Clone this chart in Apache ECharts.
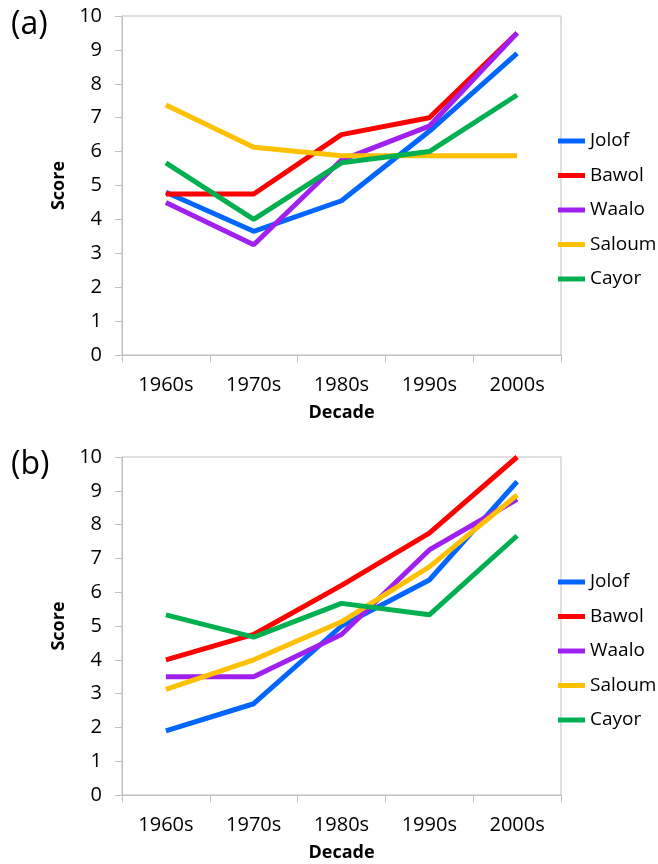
<!DOCTYPE html>
<html>
<head>
<meta charset="utf-8">
<title>Scores by decade</title>
<script src="https://cdn.jsdelivr.net/npm/echarts@6/dist/echarts.min.js"></script>
<style>
  html, body { margin: 0; padding: 0; background: #fff; }
  #chartDom { width: 658px; height: 864px; }
</style>
</head>
<body>
<div id="chartDom"></div>
<script>
const decades = ["1960s", "1970s", "1980s", "1990s", "2000s"];
const names = ["Jolof", "Bawol", "Waalo", "Saloum", "Cayor"];
const colors = ["#0066ff", "#ff0000", "#a020f0", "#ffc000", "#00b050"];

// panel (a)
const jolofA = [4.8, 3.65, 4.55, 6.6, 8.9];
const bawolA = [4.75, 4.75, 6.5, 7.0, 9.5];
const waaloA = [4.5, 3.25, 5.75, 6.75, 9.5];
const saloumA = [7.375, 6.125, 5.875, 5.875, 5.875];
const cayorA = [5.67, 4.0, 5.67, 6.0, 7.67];

// panel (b)
const jolofB = [1.9, 2.7, 5.0, 6.36, 9.27];
const bawolB = [4.0, 4.75, 6.2, 7.75, 10.0];
const waaloB = [3.5, 3.5, 4.75, 7.25, 8.75];
const saloumB = [3.125, 4.0, 5.125, 6.75, 8.875];
const cayorB = [5.33, 4.67, 5.67, 5.33, 7.67];

const panelA = [jolofA, bawolA, waaloA, saloumA, cayorA];
const panelB = [jolofB, bawolB, waaloB, saloumB, cayorB];

const font = "'Open Sans', 'Noto Sans', sans-serif";

function xAxisFor(gridIndex) {
  return {
    type: "category",
    gridIndex: gridIndex,
    data: decades,
    boundaryGap: true,
    name: "Decade",
    nameLocation: "middle",
    nameGap: 49,
    nameTextStyle: { fontFamily: font, fontSize: 18, fontWeight: "bold", color: "#000" },
    axisLine: { show: true, lineStyle: { color: "#bfbfbf", width: 1 } },
    axisTick: { show: true, length: 7, lineStyle: { color: "#bfbfbf" } },
    axisLabel: { fontFamily: font, fontSize: 20, color: "#000", margin: 20 },
    splitLine: { show: false },
  };
}

function yAxisFor(gridIndex) {
  return {
    type: "value",
    gridIndex: gridIndex,
    min: 0,
    max: 10,
    interval: 1,
    name: "Score",
    nameLocation: "middle",
    nameGap: 51,
    nameTextStyle: { fontFamily: font, fontSize: 18, fontWeight: "bold", color: "#000" },
    axisLine: { show: true, lineStyle: { color: "#bfbfbf", width: 1 } },
    axisTick: { show: true, length: 7, lineStyle: { color: "#bfbfbf" } },
    axisLabel: { fontFamily: font, fontSize: 20, color: "#000", margin: 20 },
    splitLine: { show: false },
  };
}

function legendFor(top) {
  return {
    orient: "vertical",
    left: 558,
    top: top,
    padding: 0,
    icon: "rect",
    itemWidth: 27,
    itemHeight: 5,
    itemGap: 14.5,
    selectedMode: false,
    data: names,
    textStyle: { fontFamily: font, fontSize: 19, color: "#000", lineHeight: 20 },
  };
}

let series = [];
[panelA, panelB].forEach((panel, p) => {
  for (let i = 0; i < names.length; i++) {
    series.push({
      name: names[i],
      type: "line",
      xAxisIndex: p,
      yAxisIndex: p,
      data: panel[i],
      symbol: "none",
      color: colors[i],
      lineStyle: { width: 5, color: colors[i] },
      animation: false,
    });
  }
});

const myChart = echarts.init(document.getElementById("chartDom"), null, { renderer: "canvas" });
const option = {
  backgroundColor: "#fff",
  animation: false,
  title: [
    { text: "(a)", left: 6, top: 4, textStyle: { fontFamily: font, fontSize: 32, fontWeight: "normal", color: "#000" } },
    { text: "(b)", left: 6, top: 444, textStyle: { fontFamily: font, fontSize: 32, fontWeight: "normal", color: "#000" } },
  ],
  grid: [
    { left: 122, top: 16, width: 439, height: 339, show: true, borderColor: "#bfbfbf", borderWidth: 1, containLabel: false },
    { left: 122, top: 457, width: 439, height: 338, show: true, borderColor: "#bfbfbf", borderWidth: 1, containLabel: false },
  ],
  legend: [legendFor(131), legendFor(572)],
  xAxis: [xAxisFor(0), xAxisFor(1)],
  yAxis: [yAxisFor(0), yAxisFor(1)],
  series,
};

option && myChart.setOption(option);
</script>
</body>
</html>
